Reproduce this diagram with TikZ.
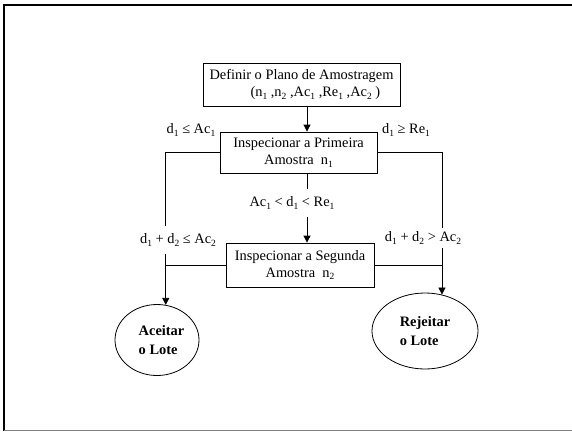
\documentclass[tikz,border=0pt]{standalone}
\usepackage{fontspec}
\setmainfont{Liberation Serif}
\usetikzlibrary{shapes.geometric,arrows.meta}
\newcommand{\sbs}[1]{\raisebox{-0.35ex}{\fontsize{9.5}{10}\selectfont #1}}
\begin{document}
\begin{tikzpicture}[x=1pt,y=-1pt,
  txt/.style={font=\fontsize{14.4}{17.5}\selectfont, inner sep=0pt},
  box/.style={draw, line width=0.8pt, txt, align=center},
  oval/.style={ellipse, draw, line width=0.8pt, font=\fontsize{14.4}{19}\selectfont\bfseries, align=left, inner sep=0pt},
  lbl/.style={txt, fill=white, inner xsep=1pt, inner ysep=0pt},
  arr/.style={line width=0.8pt, -{Triangle[length=7pt,width=7pt]}},
  ln/.style={line width=0.8pt}]
\useasboundingbox (0,0) rectangle (572,431);
\fill[white] (0,0) rectangle (572,431);
\draw[line width=2.5pt] (3,5) -- (572,5);
\draw[line width=2pt] (4,5) -- (4,431);
\draw[gray, line width=1pt] (4,430) -- (572,430);

\node[box, minimum width=197pt, minimum height=43pt, align=left] (plan) at (301.5,84.5)
  {Definir o Plano de Amostragem\\\hspace*{41pt}(n\sbs{1} ,n\sbs{2} ,Ac\sbs{1} ,Re\sbs{1} ,Ac\sbs{2} )};
\node[box, minimum width=157pt, minimum height=41pt] (first) at (298.5,152.5)
  {Inspecionar a Primeira\\Amostra\ \ n\sbs{1}};
\node[box, minimum width=148pt, minimum height=44pt] (second) at (300,265)
  {Inspecionar a Segunda\\Amostra\ \ n\sbs{2}};
\node[oval, minimum width=84pt, minimum height=71pt] (accept) at (157,340)
  {\hspace*{9pt}Aceitar\\\hspace*{9pt}o Lote};
\node[oval, minimum width=106pt, minimum height=76pt] (reject) at (425,331) {Rejeitar\\o Lote};

\coordinate (spine) at (307,0);
\draw[arr] (plan.south -| spine) -- (first.north -| spine);
\draw[arr] (first.south -| spine) -- (second.north -| spine);
\node[lbl, inner ysep=8pt] (mid) at (292,203) {Ac\sbs{1} < d\sbs{1} < Re\sbs{1}};

\draw[arr] (first.west) -| (accept.76);
\draw[ln] (second.west) -- (second.west -| accept.76);
\draw[arr] (first.east) -| (reject.65);
\draw[ln] (second.east) -- (second.east -| reject.65);

\node[lbl] (l1) at (191,130) {d\sbs{1} ≤ Ac\sbs{1}};
\node[lbl] (r1) at (406,130) {d\sbs{1} ≥ Re\sbs{1}};
\node[lbl, inner ysep=8pt] (l2) at (178,240) {d\sbs{1} + d\sbs{2} ≤ Ac\sbs{2}};
\node[lbl, inner ysep=4pt] (r2) at (423,238) {d\sbs{1} + d\sbs{2} > Ac\sbs{2}};
\end{tikzpicture}
\end{document}
